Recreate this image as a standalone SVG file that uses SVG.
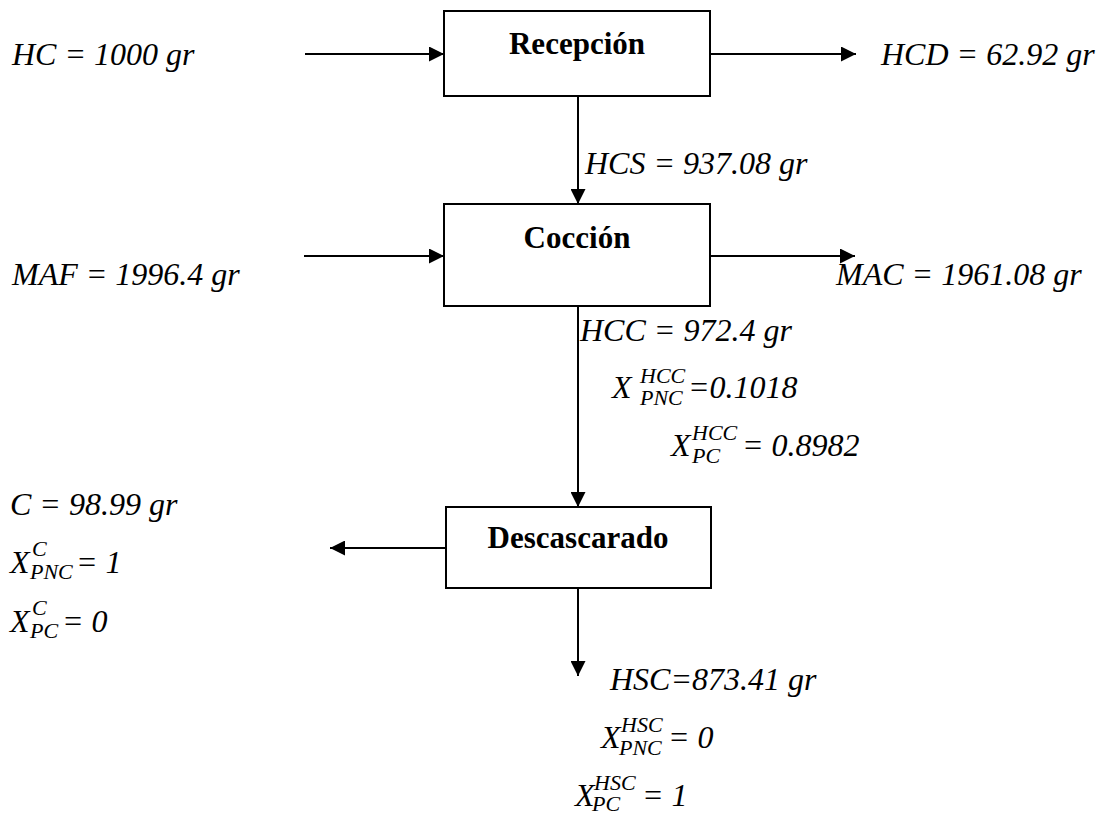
<svg xmlns="http://www.w3.org/2000/svg" width="1120" height="816" viewBox="0 0 1120 816">
  <style>
    .box { fill: #ffffff; stroke: #000000; stroke-width: 2; }
    .title { font-family: "Liberation Serif", "Times New Roman", serif; font-weight: bold; font-size: 31px; fill: #000000; text-anchor: middle; }
    .lbl { font-family: "Liberation Serif", "Times New Roman", serif; font-style: italic; font-size: 32px; fill: #000000; }
    .idx { font-family: "Liberation Serif", "Times New Roman", serif; font-style: italic; font-size: 22px; fill: #000000; }
    .flow { stroke: #000000; stroke-width: 2; fill: none; marker-end: url(#head); }
  </style>
  <defs>
    <marker id="head" markerUnits="userSpaceOnUse" markerWidth="15" markerHeight="15" viewBox="0 0 15 15" refX="15" refY="7.5" orient="auto">
      <path d="M0,0 L15,7.5 L0,15 Z" fill="#000000"/>
    </marker>
  </defs>

  <rect width="1120" height="816" fill="#ffffff"/>

  <!-- connectors -->
  <g id="connectors">
    <line class="flow" x1="305" y1="54" x2="444" y2="54"/>
    <line class="flow" x1="710" y1="54" x2="856" y2="54"/>
    <line class="flow" x1="578" y1="96" x2="578" y2="204"/>
    <line class="flow" x1="304" y1="256" x2="444" y2="256"/>
    <line class="flow" x1="710" y1="256" x2="855" y2="256"/>
    <line class="flow" x1="578" y1="306" x2="578" y2="507"/>
    <line class="flow" x1="446" y1="548" x2="330" y2="548"/>
    <line class="flow" x1="578" y1="588" x2="578" y2="676"/>
  </g>

  <!-- process steps -->
  <g id="recepcion">
    <rect class="box" x="444" y="11" width="266" height="85"/>
    <text class="title" x="577" y="54">Recepción</text>
  </g>
  <g id="coccion">
    <rect class="box" x="444" y="204" width="266" height="102"/>
    <text class="title" x="577" y="248">Cocción</text>
  </g>
  <g id="descascarado">
    <rect class="box" x="446" y="507" width="265" height="81"/>
    <text class="title" x="578" y="548">Descascarado</text>
  </g>

  <!-- stream labels -->
  <g id="stream-hc">
    <text class="lbl" x="12" y="65">HC = 1000 gr</text>
  </g>
  <g id="stream-hcd">
    <text class="lbl" x="881" y="65">HCD = 62.92 gr</text>
  </g>
  <g id="stream-hcs">
    <text class="lbl" x="585" y="174">HCS = 937.08 gr</text>
  </g>
  <g id="stream-maf">
    <text class="lbl" x="12" y="285">MAF = 1996.4 gr</text>
  </g>
  <g id="stream-mac">
    <text class="lbl" x="836" y="285">MAC = 1961.08 gr</text>
  </g>

  <g id="stream-hcc">
    <text class="lbl" x="580" y="341">HCC = 972.4 gr</text>
    <text class="lbl" x="612" y="398">X</text>
    <text class="idx" x="640" y="383">HCC</text>
    <text class="idx" x="640" y="405">PNC</text>
    <text class="lbl" x="688" y="398">=0.1018</text>
    <text class="lbl" x="671" y="456">X</text>
    <text class="idx" x="692" y="440">HCC</text>
    <text class="idx" x="692" y="463">PC</text>
    <text class="lbl" x="742" y="456">= 0.8982</text>
  </g>

  <g id="stream-c">
    <text class="lbl" x="10" y="515">C = 98.99 gr</text>
    <text class="lbl" x="10" y="573">X</text>
    <text class="idx" x="32" y="556">C</text>
    <text class="idx" x="30" y="579">PNC</text>
    <text class="lbl" x="76" y="573">= 1</text>
    <text class="lbl" x="10" y="632">X</text>
    <text class="idx" x="32" y="615">C</text>
    <text class="idx" x="30" y="638">PC</text>
    <text class="lbl" x="62" y="632">= 0</text>
  </g>

  <g id="stream-hsc">
    <text class="lbl" x="610" y="690">HSC=873.41 gr</text>
    <text class="lbl" x="601" y="748">X</text>
    <text class="idx" x="621" y="732">HSC</text>
    <text class="idx" x="619" y="755">PNC</text>
    <text class="lbl" x="668" y="748">= 0</text>
    <text class="lbl" x="575" y="806">X</text>
    <text class="idx" x="594" y="790">HSC</text>
    <text class="idx" x="592" y="811">PC</text>
    <text class="lbl" x="642" y="806">= 1</text>
  </g>
</svg>
